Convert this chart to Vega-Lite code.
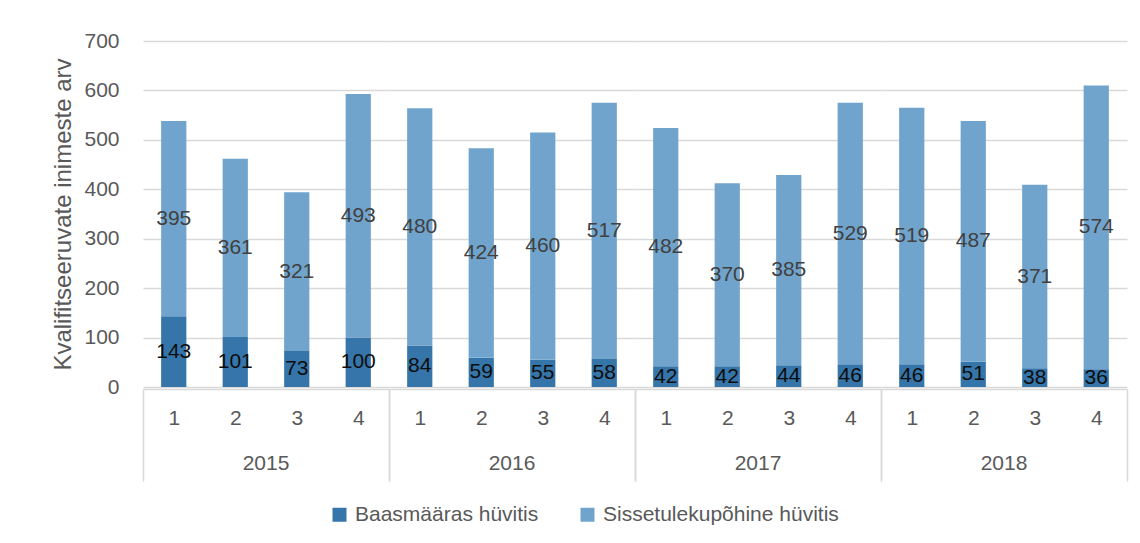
{
  "$schema": "https://vega.github.io/schema/vega-lite/v6.json",
  "padding": {"left": 51, "top": 30, "right": 10, "bottom": 5},
  "background": "white",
  "data": {"values": [
    {"year": "2015", "quarter": 1, "type": "Baasmääras hüvitis", "value": 143},
    {"year": "2015", "quarter": 2, "type": "Baasmääras hüvitis", "value": 101},
    {"year": "2015", "quarter": 3, "type": "Baasmääras hüvitis", "value": 73},
    {"year": "2015", "quarter": 4, "type": "Baasmääras hüvitis", "value": 100},
    {"year": "2016", "quarter": 1, "type": "Baasmääras hüvitis", "value": 84},
    {"year": "2016", "quarter": 2, "type": "Baasmääras hüvitis", "value": 59},
    {"year": "2016", "quarter": 3, "type": "Baasmääras hüvitis", "value": 55},
    {"year": "2016", "quarter": 4, "type": "Baasmääras hüvitis", "value": 58},
    {"year": "2017", "quarter": 1, "type": "Baasmääras hüvitis", "value": 42},
    {"year": "2017", "quarter": 2, "type": "Baasmääras hüvitis", "value": 42},
    {"year": "2017", "quarter": 3, "type": "Baasmääras hüvitis", "value": 44},
    {"year": "2017", "quarter": 4, "type": "Baasmääras hüvitis", "value": 46},
    {"year": "2018", "quarter": 1, "type": "Baasmääras hüvitis", "value": 46},
    {"year": "2018", "quarter": 2, "type": "Baasmääras hüvitis", "value": 51},
    {"year": "2018", "quarter": 3, "type": "Baasmääras hüvitis", "value": 38},
    {"year": "2018", "quarter": 4, "type": "Baasmääras hüvitis", "value": 36},
    {"year": "2015", "quarter": 1, "type": "Sissetulekupõhine hüvitis", "value": 395},
    {"year": "2015", "quarter": 2, "type": "Sissetulekupõhine hüvitis", "value": 361},
    {"year": "2015", "quarter": 3, "type": "Sissetulekupõhine hüvitis", "value": 321},
    {"year": "2015", "quarter": 4, "type": "Sissetulekupõhine hüvitis", "value": 493},
    {"year": "2016", "quarter": 1, "type": "Sissetulekupõhine hüvitis", "value": 480},
    {"year": "2016", "quarter": 2, "type": "Sissetulekupõhine hüvitis", "value": 424},
    {"year": "2016", "quarter": 3, "type": "Sissetulekupõhine hüvitis", "value": 460},
    {"year": "2016", "quarter": 4, "type": "Sissetulekupõhine hüvitis", "value": 517},
    {"year": "2017", "quarter": 1, "type": "Sissetulekupõhine hüvitis", "value": 482},
    {"year": "2017", "quarter": 2, "type": "Sissetulekupõhine hüvitis", "value": 370},
    {"year": "2017", "quarter": 3, "type": "Sissetulekupõhine hüvitis", "value": 385},
    {"year": "2017", "quarter": 4, "type": "Sissetulekupõhine hüvitis", "value": 529},
    {"year": "2018", "quarter": 1, "type": "Sissetulekupõhine hüvitis", "value": 519},
    {"year": "2018", "quarter": 2, "type": "Sissetulekupõhine hüvitis", "value": 487},
    {"year": "2018", "quarter": 3, "type": "Sissetulekupõhine hüvitis", "value": 371},
    {"year": "2018", "quarter": 4, "type": "Sissetulekupõhine hüvitis", "value": 574}
  ]},
  "spacing": 0,
  "facet": {
    "column": {
      "field": "year",
      "type": "ordinal",
      "title": null,
      "header": {
        "labelOrient": "bottom",
        "labelFont": "Liberation Sans",
        "labelFontSize": 21,
        "labelColor": "#595959",
        "labelPadding": -29
      }
    }
  },
  "spec": {
    "width": 246,
    "height": 346,
    "encoding": {
      "x": {
        "field": "quarter",
        "type": "ordinal",
        "scale": {"paddingInner": 0, "paddingOuter": 0},
        "axis": {
          "title": null,
          "labelAngle": 0,
          "labelFont": "Liberation Sans",
          "labelFontSize": 21,
          "labelColor": "#595959",
          "domainColor": "#d9d9d9",
          "domainWidth": 1.5,
          "tickColor": "#d9d9d9",
          "tickWidth": 1.5,
          "tickBand": "extent",
          "tickSize": 92,
          "tickOpacity": {"condition": {"test": "datum.value == 4 || datum.extra || datum.value == null", "value": 1}, "value": 0},
          "labelPadding": -74
        }
      },
      "y": {
        "field": "value",
        "type": "quantitative",
        "stack": "zero",
        "scale": {"domain": [0, 700]},
        "axis": {
          "title": "Kvalifitseeruvate inimeste arv",
          "titleFont": "Liberation Sans",
          "titleFontSize": 24,
          "titleFontWeight": "normal",
          "titleColor": "#595959",
          "titlePadding": 8,
          "values": [0, 100, 200, 300, 400, 500, 600, 700],
          "labelFont": "Liberation Sans",
          "labelFontSize": 21,
          "labelColor": "#595959",
          "labelPadding": 24,
          "domain": false,
          "ticks": false,
          "gridColor": "#d9d9d9",
          "gridWidth": 1.5
        }
      },
      "order": {"field": "type", "sort": "ascending"}
    },
    "layer": [
      {
        "mark": {"type": "bar", "width": {"band": 0.41}},
        "encoding": {
          "color": {
            "field": "type",
            "type": "nominal",
            "scale": {"domain": ["Baasmääras hüvitis", "Sissetulekupõhine hüvitis"], "range": ["#3575a9", "#70a4cc"]},
            "legend": {
              "title": null,
              "orient": "none",
              "legendX": 186,
              "legendY": 463,
              "direction": "horizontal",
              "symbolType": "square",
              "symbolSize": 196,
              "symbolStrokeWidth": 0,
              "labelFont": "Liberation Sans",
              "labelFontSize": 21,
              "labelColor": "#595959",
              "labelLimit": 0,
              "labelOffset": 5,
              "columnPadding": 38
            }
          }
        }
      },
      {
        "mark": {"type": "text", "font": "Liberation Sans", "fontSize": 21, "baseline": "middle"},
        "encoding": {
          "y": {"field": "value", "type": "quantitative", "stack": "zero", "bandPosition": 0.5},
          "detail": {"field": "type"},
          "text": {"field": "value", "type": "quantitative"},
          "color": {"condition": {"test": "datum.type == 'Baasmääras hüvitis'", "value": "#0d0d0d"}, "value": "#404040"}
        }
      }
    ]
  },
  "config": {
    "view": {"stroke": null}
  }
}
